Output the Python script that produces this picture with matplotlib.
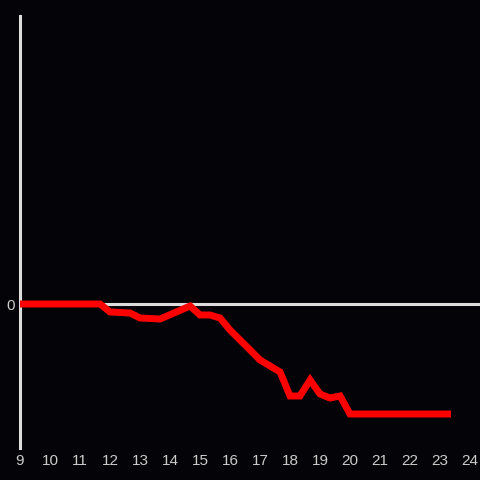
import matplotlib.pyplot as plt
import numpy as np

# hours of the day (20 minute steps) and the running value
hours = [9.0, 11.67, 12.0, 12.67, 13.0, 13.67, 14.67, 15.0, 15.33, 15.67,
         16.0, 16.67, 17.0, 17.67, 18.0, 18.33, 18.67, 19.0, 19.33, 19.67,
         20.0, 23.25]
values = [0, 0, -8, -9, -14, -15, -2, -11, -11, -14,
          -26, -46, -56, -68, -92, -92, -76, -90, -94, -92,
          -110, -110]
xticks = list(range(9, 25))

bg = '#040307'
fig = plt.figure(figsize=(4.8, 4.8), dpi=100, facecolor=bg)
ax = fig.add_axes([20 / 480, 32 / 480, 460 / 480, 432 / 480])
ax.set_facecolor(bg)

ax.axhline(0, color='#dddddd', lw=2.2, zorder=1)
ax.plot(hours, values, color='#ff0000', lw=5, solid_joinstyle='miter', zorder=3)

ax.set_xlim(9, 9 + 460 / 30)
ax.set_ylim(-144, 288)

for s in ['top', 'right', 'bottom']:
    ax.spines[s].set_visible(False)
ax.spines['left'].set_color('#dddddd')
ax.spines['left'].set_linewidth(2.2)

ax.set_xticks(xticks)
ax.set_xticklabels([str(t) for t in xticks])
ax.set_yticks([0])
ax.set_yticklabels(['0'])
ax.tick_params(length=0, colors='#cccccc', labelsize=11, pad=4)
for lab in ax.get_xticklabels() + ax.get_yticklabels():
    lab.set_family('Liberation Sans')

fig.savefig('out.png', dpi=100, facecolor=bg)
